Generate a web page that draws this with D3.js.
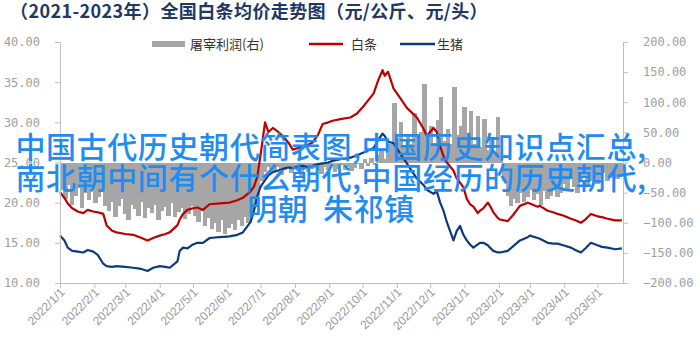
<!DOCTYPE html>
<html>
<head>
<meta charset="utf-8">
<script src="https://cdn.jsdelivr.net/npm/d3@7/dist/d3.min.js"></script>
<style>
  body { margin: 0; background: #fff; }
  svg { display: block; }
</style>
</head>
<body>
<div id="chart"></div>
<script>
// 白条 / 生猪 价格 (元/公斤), 屠宰利润 (元/头, 右轴)
var dates = [
  "2022-01-01","2022-01-05","2022-01-08","2022-01-12","2022-01-17","2022-01-22","2022-01-26","2022-01-31","2022-02-04","2022-02-09",
  "2022-02-12","2022-02-17","2022-02-21","2022-03-01","2022-03-08","2022-03-14","2022-03-21","2022-03-26","2022-04-01","2022-04-06",
  "2022-04-10","2022-04-17","2022-04-19","2022-04-22","2022-04-26","2022-05-01","2022-05-05","2022-05-10","2022-05-16","2022-05-25",
  "2022-06-03","2022-06-10","2022-06-15","2022-06-22","2022-06-25","2022-06-28","2022-07-01","2022-07-05","2022-07-08","2022-07-12",
  "2022-07-17","2022-07-21","2022-07-26","2022-07-30","2022-08-04","2022-08-08","2022-08-13","2022-08-17","2022-08-22","2022-08-26",
  "2022-08-31","2022-09-04","2022-09-11","2022-09-20","2022-09-26","2022-10-03","2022-10-11","2022-10-15","2022-10-19","2022-10-21",
  "2022-10-24","2022-10-29","2022-11-04","2022-11-10","2022-11-16","2022-11-19","2022-11-25","2022-11-28","2022-12-04","2022-12-07",
  "2022-12-10","2022-12-13","2022-12-16","2022-12-22","2022-12-25","2022-12-28","2022-12-31","2023-01-03","2023-01-06","2023-01-09",
  "2023-01-13","2023-01-15","2023-01-18","2023-01-22","2023-01-24","2023-01-27","2023-01-31","2023-02-02","2023-02-09","2023-02-14",
  "2023-02-20","2023-02-27","2023-03-01","2023-03-08","2023-03-10","2023-03-17","2023-03-22","2023-03-26","2023-03-31","2023-04-07",
  "2023-04-11","2023-04-16","2023-04-20","2023-04-25","2023-05-01","2023-05-05","2023-05-10","2023-05-17","2023-05-23"
]

var baitiao = [
  21.3,20.6,19.9,19.3,18.9,18.7,19.1,18.9,18.8,18.6,
  17.2,16.5,16.3,16.1,16.0,15.7,15.3,15.6,15.9,16.1,
  16.3,17.2,17.9,18.6,19.1,19.3,19.4,19.1,19.8,19.9,
  20.0,20.3,20.6,21.4,22.0,23.2,26.0,30.0,28.8,29.3,
  28.8,28.3,27.5,26.6,26.8,27.0,27.2,27.5,28.5,29.8,
  30.0,30.2,30.4,30.6,31.1,32.2,33.6,35.2,36.5,35.8,
  36.3,34.2,33.0,31.8,31.0,30.6,29.2,28.3,29.3,28.8,
  27.0,25.8,25.0,24.0,23.0,22.5,21.9,20.5,19.8,19.5,
  18.7,19.0,19.3,20.0,19.6,18.8,18.1,17.9,17.7,18.5,
  19.6,20.0,19.9,19.5,19.6,19.0,18.8,18.6,18.4,18.0,
  17.8,17.5,17.9,18.6,18.3,18.2,18.0,17.8,17.8
]

var shengzhu = [
  15.9,15.3,14.4,14.0,13.9,13.8,14.1,13.9,13.5,12.4,
  12.1,12.0,12.1,12.0,11.9,11.8,11.5,11.9,12.1,12.0,
  11.9,12.7,14.0,14.4,14.3,14.8,15.0,15.0,15.6,15.7,
  15.8,16.0,16.3,17.6,19.0,20.8,22.0,22.8,23.4,23.8,
  24.0,24.2,24.4,24.3,24.5,24.6,24.4,24.6,24.8,24.9,
  25.0,25.2,25.4,25.6,25.9,26.3,26.8,27.8,28.6,28.3,
  27.6,27.4,26.1,24.9,23.6,23.0,22.2,21.6,21.1,21.4,
  20.0,19.0,17.6,15.3,16.5,17.1,16.0,15.3,14.8,14.4,
  14.8,15.0,15.0,14.7,14.4,14.0,13.8,13.8,14.0,14.6,
  15.3,15.7,15.9,15.6,15.5,15.0,14.9,14.9,14.7,14.4,
  14.1,13.8,14.3,15.0,14.7,14.5,14.4,14.2,14.3
]

// 屠宰利润, 每3天一个值, 从2022-01-01开始
var profitStart = "2022-01-01"
var profitStep = 3
var profit = [
  -45,-60,-38,-70,-55,-42,-75,-50,-62,-40,-68,-58,-48,-72,
  -80,-65,-90,-72,-60,-85,-95,-70,-78,-88,-66,-92,-75,
  -84,-70,-96,-80,-74,-88,-68,-90,-82,-76,-94,-86,-72,
  -88,-98,-80,-105,-92,-110,-100,-115,-96,-118,-108,-102,-112,-95,-106,-90,-100,-85,
  -70,-55,-30,-15,-8,
  -10,-15,-8,-20,-12,-6,-18,-10,-14,-22,-9,-16,-11,-5,-13,-19,-8,-12,-6,-15,-10,-4,-12,-7,-14,-9,-3,-11,5,-6,8,-4,12,20,6,15,
  30,98,40,67,25,45,30,82,35,50,130,40,60,28,70,108,35,55,30,125,45,60,92,38,85,30,78,25,73,20,40,15,75,10,
  -30,-55,-72,-60,-68,-50,-65,-58,-45,-62,-52,-70,-48,-60,-55,-42,-58,-50,
  -35,-45,-28,-40,-50,-32,-25,-38,-30,-22,-35,-28,-18,-30,-25,-20,-28,-24
]

var leftTicks = [10, 15, 20, 25, 30, 35, 40]
var rightTicks = [-200, -150, -100, -50, 0, 50, 100, 150, 200]

var title = "（2021-2023年）全国白条均价走势图（元/公斤、元/头）"
var overlayLines = ["中国古代历史朝代简表图,中国历史知识点汇总,", "南北朝中间有个什么朝代,中国经历的历史朝代,", "明朝  朱祁镇"]

var W = 700, H = 351
var plotL = 60, plotR = 623, plotT = 42, plotB = 283

var parse = d3.timeParse("%Y-%m-%d")

var svg = d3.select("#chart").append("svg")
  .attr("width", W)
  .attr("height", H)

var x = d3.scaleTime()
  .domain([parse("2022-01-01"), parse("2023-05-24")])
  .range([plotL, plotR])

var yL = d3.scaleLinear().domain([10, 40]).range([plotB, plotT])
var yR = d3.scaleLinear().domain([-200, 200]).range([plotB, plotT])

// title
svg.append("text")
  .attr("x", 10)
  .attr("y", 18)
  .attr("font-family", "Noto Sans CJK SC")
  .attr("font-weight", "bold")
  .attr("font-size", 18)
  .attr("letter-spacing", 0.4)
  .attr("fill", "#203864")
  .text(title)

// profit bars (right axis)
var t0 = parse(profitStart)
var barData = profit.map(function (v, i) { return { d: d3.timeDay.offset(t0, i * profitStep), v: v } })
var bw = x(d3.timeDay.offset(t0, profitStep)) - x(t0)

svg.append("g")
  .attr("shape-rendering", "crispEdges")
  .selectAll("rect")
  .data(barData)
  .enter()
  .append("rect")
  .attr("x", function (d) { return x(d.d) })
  .attr("width", bw + 1)
  .attr("y", function (d) { return Math.min(yR(0), yR(d.v)) })
  .attr("height", function (d) { return Math.abs(yR(d.v) - yR(0)) })
  .attr("fill", "#a6a6a6")

// price lines
var pts = dates.map(function (s, i) { return { d: parse(s), b: baitiao[i], s: shengzhu[i] } })

var lineB = d3.line().x(function (d) { return x(d.d) }).y(function (d) { return yL(d.b) })
var lineS = d3.line().x(function (d) { return x(d.d) }).y(function (d) { return yL(d.s) })

svg.append("path")
  .datum(pts)
  .attr("d", lineB)
  .attr("fill", "none")
  .attr("stroke", "#c00000")
  .attr("stroke-width", 2.2)
  .attr("stroke-linejoin", "round")

svg.append("path")
  .datum(pts)
  .attr("d", lineS)
  .attr("fill", "none")
  .attr("stroke", "#0d3a7e")
  .attr("stroke-width", 2.2)
  .attr("stroke-linejoin", "round")

// axes
var axisColor = "#bfbfbf"

var gL = svg.append("g")
  .attr("transform", "translate(" + plotL + ",0)")
  .call(d3.axisLeft(yL).tickValues(leftTicks).tickSize(5).tickPadding(15).tickFormat(d3.format(".2f")))

var gR = svg.append("g")
  .attr("transform", "translate(" + plotR + ",0)")
  .call(d3.axisRight(yR).tickValues(rightTicks).tickSize(5).tickPadding(15).tickFormat(d3.format(".2f")))

var gX = svg.append("g")
  .attr("transform", "translate(0," + plotB + ")")
  .call(d3.axisBottom(x).ticks(d3.timeMonth.every(1)).tickSize(5).tickSizeOuter(0).tickFormat(d3.timeFormat("%Y/%-m/%-d")))

;[gL, gR, gX].forEach(function (g) {
  g.select(".domain").attr("stroke", axisColor)
  g.selectAll(".tick line").attr("stroke", axisColor)
})

gL.selectAll("text").attr("font-family", "DejaVu Sans Mono").attr("font-size", 12).attr("fill", "#a0a0a0")
gR.selectAll("text").attr("font-family", "DejaVu Sans Mono").attr("font-size", 12).attr("fill", "#a0a0a0")

gX.selectAll("text")
  .attr("font-family", "Liberation Sans")
  .attr("font-size", 12)
  .attr("fill", "#999")
  .attr("text-anchor", "end")
  .attr("dy", null)
  .attr("y", 0)
  .attr("transform", "translate(5,10) rotate(-45)")

// legend
var lg = svg.append("g").attr("font-family", "Noto Sans CJK SC").attr("font-size", 13).attr("fill", "#333")
lg.append("rect").attr("x", 152).attr("y", 41).attr("width", 33).attr("height", 6).attr("fill", "#a6a6a6")
lg.append("text").attr("x", 190).attr("y", 49).text("屠宰利润(右)")
lg.append("line").attr("x1", 309).attr("x2", 343).attr("y1", 44).attr("y2", 44).attr("stroke", "#c00000").attr("stroke-width", 2.5)
lg.append("text").attr("x", 351).attr("y", 49).text("白条")
lg.append("line").attr("x1", 400).attr("x2", 435).attr("y1", 44).attr("y2", 44).attr("stroke", "#0d3a7e").attr("stroke-width", 2.5)
lg.append("text").attr("x", 437).attr("y", 49).text("生猪")

// blue overlay text
svg.append("g").selectAll("text")
  .data(overlayLines)
  .enter()
  .append("text")
  .attr("x", 331)
  .attr("y", function (d, i) { return 158 + i * 31 })
  .attr("text-anchor", "middle")
  .attr("font-family", "Noto Sans CJK SC")
  .attr("font-weight", 500)
  .attr("font-size", 30)
  .attr("letter-spacing", 0.6)
  .attr("fill", "#1e8cf0")
  .style("white-space", "pre")
  .text(function (d) { return d })
</script>
</body>
</html>
